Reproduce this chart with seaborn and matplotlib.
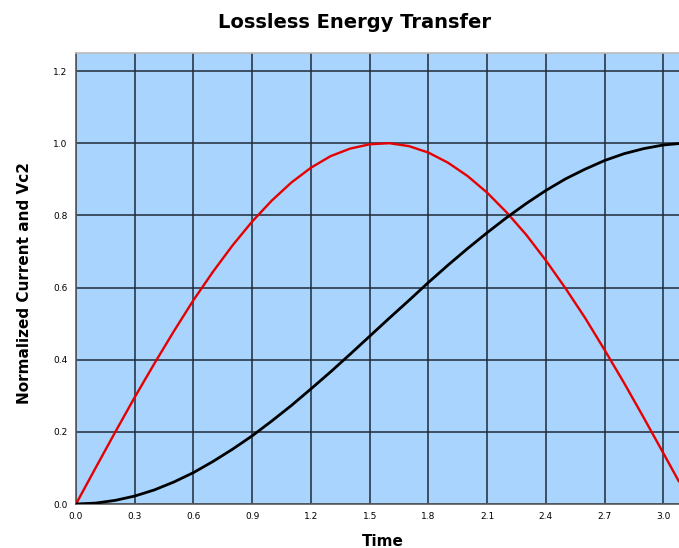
import matplotlib
matplotlib.use("Agg")
import matplotlib.pyplot as plt
import seaborn as sns
import pandas as pd

time = [0.0, 0.1, 0.2, 0.3, 0.4, 0.5, 0.6, 0.7, 0.8, 0.9, 1.0, 1.1, 1.2, 1.3, 1.4, 1.5,
        1.6, 1.7, 1.8, 1.9, 2.0, 2.1, 2.2, 2.3, 2.4, 2.5, 2.6, 2.7, 2.8, 2.9, 3.0, 3.08]
current = [0.000, 0.100, 0.199, 0.296, 0.389, 0.479, 0.565, 0.644, 0.717, 0.783, 0.841, 0.891,
           0.932, 0.964, 0.985, 0.997, 1.000, 0.992, 0.974, 0.946, 0.909, 0.863, 0.808, 0.746,
           0.675, 0.598, 0.516, 0.427, 0.335, 0.239, 0.141, 0.062]
vc2 = [0.000, 0.0025, 0.010, 0.022, 0.039, 0.061, 0.087, 0.118, 0.152, 0.189, 0.230, 0.273,
       0.319, 0.366, 0.415, 0.465, 0.515, 0.564, 0.614, 0.662, 0.708, 0.752, 0.794, 0.833,
       0.869, 0.901, 0.928, 0.952, 0.971, 0.985, 0.995, 0.999]
xticks = [0.0, 0.3, 0.6, 0.9, 1.2, 1.5, 1.8, 2.1, 2.4, 2.7, 3.0]
yticks = [0.0, 0.2, 0.4, 0.6, 0.8, 1.0, 1.2]

df = pd.DataFrame({"Time": time, "Current": current, "Vc2": vc2})

sns.set_style("white")
plt.rcParams['font.family'] = ['DejaVu Sans']
plt.rcParams['text.color'] = 'black'
plt.rcParams['xtick.color'] = 'black'
plt.rcParams['ytick.color'] = 'black'

fig = plt.figure(figsize=(6.79, 5.48), dpi=100)
ax = fig.add_axes([76/679, 44/548, 1 - 76/679, (504-53)/548])
ax.set_facecolor("#a8d4fe")

sns.lineplot(data=df, x="Time", y="Current", ax=ax, color="#e60000", linewidth=1.7, zorder=3)
sns.lineplot(data=df, x="Time", y="Vc2", ax=ax, color="#000000", linewidth=2.0, zorder=3)

ax.set_xlim(0, 3.08)
ax.set_ylim(0, 1.25)
ax.set_xticks(xticks)
ax.set_yticks(yticks)
ax.set_xticklabels([f"{v:.1f}" for v in xticks], fontsize=6.5)
ax.set_yticklabels([f"{v:.1f}" for v in yticks], fontsize=6.5)
ax.grid(True, color="#1f2a36", linewidth=1.1, zorder=1)
ax.set_axisbelow(True)
ax.tick_params(axis="both", direction="out", length=4, width=1, color="#1f2a36", pad=2,
               labelcolor="black")
for s in ["left", "bottom"]:
    ax.spines[s].set_color("#555a60")
    ax.spines[s].set_linewidth(1.2)
ax.spines["top"].set_color("#bbbbbb")
ax.spines["top"].set_linewidth(1.2)
ax.spines["right"].set_visible(False)

ax.set_xlabel("")
ax.set_ylabel("")
fig.text(383/679, 1 - 541/548, "Time", ha="center", va="center", fontsize=11,
         fontweight="bold", color="black")
fig.text(25/679, 1 - 283/548, "Normalized Current and Vc2", ha="center", va="center",
         rotation=90, fontsize=11, fontweight="bold", color="black")
fig.text(354/679, 1 - 22/548, "Lossless Energy Transfer", ha="center", va="center",
         fontsize=14, fontweight="bold", color="black")

fig.savefig("out.png", dpi=100)
